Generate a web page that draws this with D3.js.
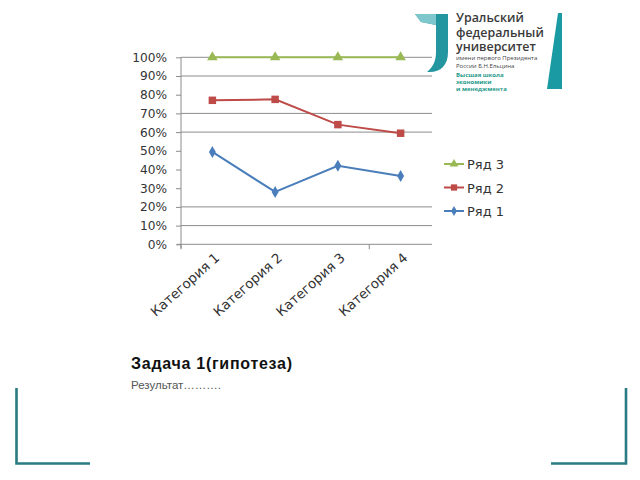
<!DOCTYPE html>
<html><head><meta charset="utf-8">
<script src="https://cdn.jsdelivr.net/npm/d3@7/dist/d3.min.js"></script>
<style>html,body{margin:0;padding:0;background:#fff;}svg{display:block;}</style>
</head><body>
<script>
const categories = ["Категория 1", "Категория 2", "Категория 3", "Категория 4"];
const seriesNames = ["Ряд 1", "Ряд 2", "Ряд 3"];
const ryad1 = [0.494, 0.280, 0.420, 0.365];
const ryad2 = [0.770, 0.775, 0.640, 0.594];
const ryad3 = [1.0, 1.0, 1.0, 1.0];
const yTicks = [0, 0.1, 0.2, 0.3, 0.4, 0.5, 0.6, 0.7, 0.8, 0.9, 1.0];
const gridVisible = [0.1, 0.2, 0.6, 0.7, 0.9, 1.0];
const xTickVisible = [0, 3];
const titleText = "Задача 1(гипотеза)";
const subText = "Результат……….";
const logoLines = ["Уральский", "федеральный", "университет"];
const logoSmall = ["имени первого Президента", "России Б.Н.Ельцина"];
const logoSchool = ["Высшая школа", "экономики", "и менеджмента"];

const colors = {"Ряд 1": "#4A7EBB", "Ряд 2": "#BE4B48", "Ряд 3": "#98B954"};
const series = [
  {name: "Ряд 3", values: ryad3, sym: d3.symbolTriangle, size: 48},
  {name: "Ряд 2", values: ryad2, sym: d3.symbolSquare, size: 56},
  {name: "Ряд 1", values: ryad1, sym: d3.symbolDiamond, size: 42}
];

const svg = d3.select("body").append("svg").attr("width", 640).attr("height", 480);

const x = d3.scaleBand().domain(categories).range([181, 432]);
const y = d3.scaleLinear().domain([0, 1]).range([244.3, 57.3]);
const font = "DejaVu Sans, Verdana, sans-serif";

// gridlines
svg.append("g").selectAll("line").data(gridVisible).join("line")
  .attr("x1", 181).attr("x2", 432)
  .attr("y1", d => y(d)).attr("y2", d => y(d))
  .attr("stroke", "#8c8c8c").attr("stroke-width", 1);

// y axis
const yAxis = d3.axisLeft(y).tickValues(yTicks).tickFormat(d3.format(".0%")).tickSize(5).tickPadding(9);
const gy = svg.append("g").attr("transform", "translate(181,0)").call(yAxis);
gy.select(".domain").attr("stroke", "#8c8c8c").attr("d", `M0,${y(1)}V${y(0)+4}`);
gy.selectAll(".tick line").attr("stroke", "#8c8c8c");
gy.selectAll("text").attr("font-family", font).attr("font-size", 12.2).attr("fill", "#333");

// x axis line
svg.append("line").attr("x1", 177).attr("x2", 432).attr("y1", y(0)).attr("y2", y(0))
  .attr("stroke", "#8c8c8c");
const bounds = d3.range(categories.length + 1).map(i => 181 + i * x.bandwidth());
svg.append("g").selectAll("line").data(xTickVisible).join("line")
  .attr("x1", i => bounds[i]).attr("x2", i => bounds[i])
  .attr("y1", y(0)).attr("y2", y(0) + 5).attr("stroke", "#8c8c8c");

// category labels
svg.append("g").selectAll("text").data(categories).join("text")
  .attr("transform", d => `translate(${x(d) + x.bandwidth()/2 + 8},${259}) rotate(-42)`)
  .attr("text-anchor", "end")
  .attr("font-family", font).attr("font-size", 13.4).attr("fill", "#333")
  .text(d => d);

// lines + markers
const cx = d => x(d) + x.bandwidth() / 2;
const line = d3.line().x((v, i) => cx(categories[i])).y(v => y(v));
series.forEach(s => {
  svg.append("path").datum(s.values).attr("d", line)
    .attr("fill", "none").attr("stroke", colors[s.name]).attr("stroke-width", 2);
  svg.append("g").selectAll("path").data(s.values).join("path")
    .attr("transform", (v, i) => `translate(${cx(categories[i])},${y(v)})`)
    .attr("d", d3.symbol().type(s.sym).size(s.size))
    .attr("fill", colors[s.name]);
});

// legend
const lg = svg.append("g");
series.forEach((s, i) => {
  const yy = 164 + i * 23.5;
  lg.append("line").attr("x1", 444).attr("x2", 464).attr("y1", yy).attr("y2", yy)
    .attr("stroke", colors[s.name]).attr("stroke-width", 2);
  lg.append("path").attr("transform", `translate(454,${yy})`)
    .attr("d", d3.symbol().type(s.sym).size(s.size * 0.7)).attr("fill", colors[s.name]);
  lg.append("text").attr("x", 467).attr("y", yy + 5)
    .attr("font-family", font).attr("font-size", 13).attr("fill", "#333").text(s.name);
});

// title texts
svg.append("text").attr("x", 131).attr("y", 369)
  .attr("font-family", "Liberation Sans, Arial, sans-serif").attr("font-weight", "bold")
  .attr("font-size", 16).attr("fill", "#111").attr("textLength", 161).text(titleText);
svg.append("text").attr("x", 131).attr("y", 389)
  .attr("font-family", "Liberation Sans, Arial, sans-serif")
  .attr("font-size", 11.5).attr("fill", "#555").text(subText);

// corner brackets
const teal = "#2a7b83";
svg.append("path").attr("d", "M16.5,388V463.5H90").attr("fill", "none").attr("stroke", teal).attr("stroke-width", 2.6);
svg.append("path").attr("d", "M551,463.5H626V388").attr("fill", "none").attr("stroke", teal).attr("stroke-width", 2.6);

// logo
const logo = svg.append("g");
logo.append("path").attr("d", "M415,14 L448,14 L448,52 C448,66 440,73 427,72 C433,67 436,61 436,52 L436,25 L421,22 Z")
  .attr("fill", "#2496a0");
logo.append("path").attr("d", "M415,14 L436,14 L436,25 L421,22 Z").attr("fill", "#7ec8cd");
logo.append("path").attr("d", "M558,13 L562,13 L562,89 L547,89 Z").attr("fill", "#1a9aa2");
logoLines.forEach((t, i) => logo.append("text").attr("x", 456).attr("y", 22 + i * 14.5)
  .attr("font-family", "Open Sans, sans-serif").attr("font-weight", 600)
  .attr("font-size", 12.4).attr("fill", "#3a3a3a").text(t));
logoSmall.forEach((t, i) => logo.append("text").attr("x", 456).attr("y", 60 + i * 7.5)
  .attr("font-family", "Open Sans, sans-serif").attr("font-size", 6).attr("fill", "#444").text(t));
logoSchool.forEach((t, i) => logo.append("text").attr("x", 456).attr("y", 76.5 + i * 7)
  .attr("font-family", "Open Sans, sans-serif").attr("font-weight", 700)
  .attr("font-size", 6).attr("fill", "#1f9a8a").text(t));
</script>
</body></html>
